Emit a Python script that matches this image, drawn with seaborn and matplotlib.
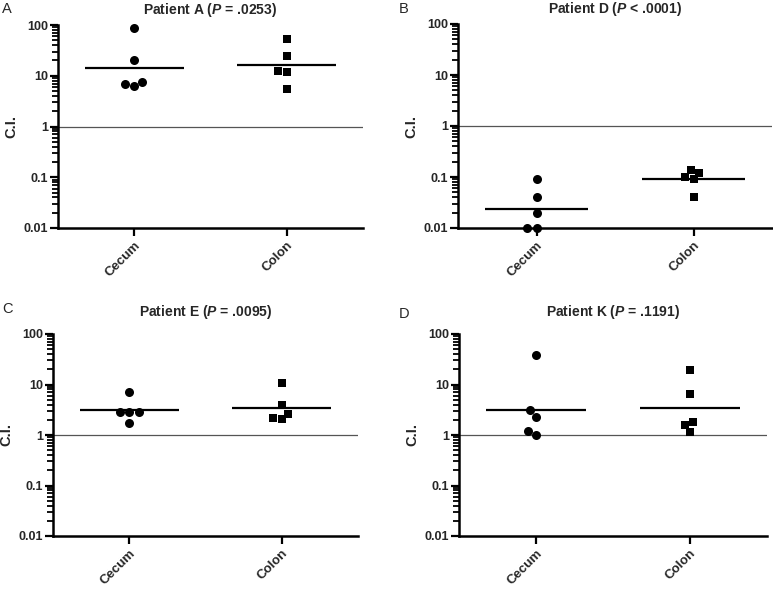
import numpy as np
import pandas as pd
import matplotlib
matplotlib.use('Agg')
import matplotlib.pyplot as plt
import matplotlib.ticker as mticker
import seaborn as sns

# C.I. values, one list per patient and site
tissues = ['Cecum', 'Colon']
patients = ['A', 'D', 'E', 'K']
p_texts = ['= .0253', '< .0001', '= .0095', '= .1191']
panel_letters = ['A', 'B', 'C', 'D']

cecum_A = [88, 20, 7.6, 6.2, 6.8]
colon_A = [52, 24.8, 12.6, 11.9, 5.5]
cecum_D = [0.09, 0.04, 0.02, 0.01, 0.01]
colon_D = [0.14, 0.10, 0.09, 0.12, 0.04]
cecum_E = [7.2, 2.9, 2.9, 2.9, 1.75]
colon_E = [10.6, 3.9, 2.6, 2.07, 2.14]
cecum_K = [38.8, 3.1, 2.24, 1.2, 1.0]
colon_K = [19.8, 6.4, 1.83, 1.57, 1.16]

values = {
    'A': (cecum_A, colon_A),
    'D': (cecum_D, colon_D),
    'E': (cecum_E, colon_E),
    'K': (cecum_K, colon_K),
}

yticks = [0.01, 0.1, 1, 10, 100]
ytick_labels = ['0.01', '0.1', '1', '10', '100']

sns.set_style('ticks')
plt.rcParams['font.family'] = ['Liberation Sans', 'DejaVu Sans']
plt.rcParams['mathtext.fontset'] = 'custom'
plt.rcParams['mathtext.bfit'] = 'Liberation Sans:italic:bold'
plt.rcParams['mathtext.it'] = 'Liberation Sans:italic'
plt.rcParams['mathtext.rm'] = 'Liberation Sans'

fig = plt.figure(figsize=(7.73, 5.9), dpi=100)
W, H = 773, 590
# axes boxes in pixels: left, top, right, bottom
boxes = [(58, 25, 363, 228), (458, 24, 772, 228),
         (53, 334, 358, 536), (459, 334, 767, 536)]
title_pads = [8, 8, 13, 13]
letter_pos = [(2, 13), (399, 13), (2, 313), (399, 318)]
markers = {'Cecum': 'o', 'Colon': 's'}
marker_sizes = {'Cecum': 6.5, 'Colon': 5.8}
minor_ticks = [k * 10.0 ** e for e in range(-2, 2) for k in range(2, 10)]

for i, pat in enumerate(patients):
    l, t, r, b = boxes[i]
    ax = fig.add_axes([l / W, 1 - b / H, (r - l) / W, (b - t) / H])
    cec, col = values[pat]
    df = pd.DataFrame({
        'tissue': ['Cecum'] * len(cec) + ['Colon'] * len(col),
        'ci': cec + col,
    })
    ax.set_yscale('log')
    ax.set_ylim(0.01, 100)
    ax.axhline(1, color='#555555', lw=0.9, zorder=1)
    for tis in tissues:
        sub = df[df['tissue'] == tis]
        sns.swarmplot(data=sub, x='tissue', y='ci', order=tissues,
                      marker=markers[tis], color='black', size=marker_sizes[tis],
                      linewidth=0, ax=ax, clip_on=False, zorder=3)
        # horizontal bar at the geometric mean of each group
        gm = np.exp(np.mean(np.log(sub['ci'])))
        xpos = tissues.index(tis)
        ax.hlines(gm, xpos - 0.325, xpos + 0.325, color='black', lw=1.6, zorder=2)
    ax.set_xlim(-0.5, 1.5)
    ax.set_ylim(0.01, 100)
    ax.yaxis.set_major_locator(mticker.FixedLocator(yticks))
    ax.yaxis.set_major_formatter(mticker.FixedFormatter(ytick_labels))
    ax.yaxis.set_minor_locator(mticker.FixedLocator(minor_ticks))
    ax.yaxis.set_minor_formatter(mticker.NullFormatter())
    ax.tick_params(axis='y', which='major', length=6, width=1.6, labelsize=9,
                   pad=1, color='black')
    ax.tick_params(axis='y', which='minor', length=4, width=1.3, left=True,
                   color='black')
    ax.tick_params(axis='x', length=6, width=1.6, labelsize=9.5, pad=2,
                   color='black')
    for lab in ax.get_yticklabels():
        lab.set_fontweight('bold')
    ax.set_xticks([0, 1])
    ax.set_xticklabels(tissues, rotation=45, ha='right', rotation_mode='anchor',
                       fontweight='bold')
    ax.set_xlabel('')
    ax.set_ylabel('C.I.', fontsize=10.5, fontweight='bold', labelpad=4)
    for side in ['top', 'right']:
        ax.spines[side].set_visible(False)
    for side in ['left', 'bottom']:
        ax.spines[side].set_linewidth(1.8)
        ax.spines[side].set_color('black')
    ax.set_title(r'Patient %s ($\mathbfit{P}$ %s)' % (pat, p_texts[i]),
                 fontsize=10, fontweight='bold', pad=title_pads[i])
    lx, ly = letter_pos[i]
    fig.text(lx / W, 1 - ly / H, panel_letters[i], fontsize=10.5,
             ha='left', va='baseline')

fig.savefig('out.png', dpi=100)
